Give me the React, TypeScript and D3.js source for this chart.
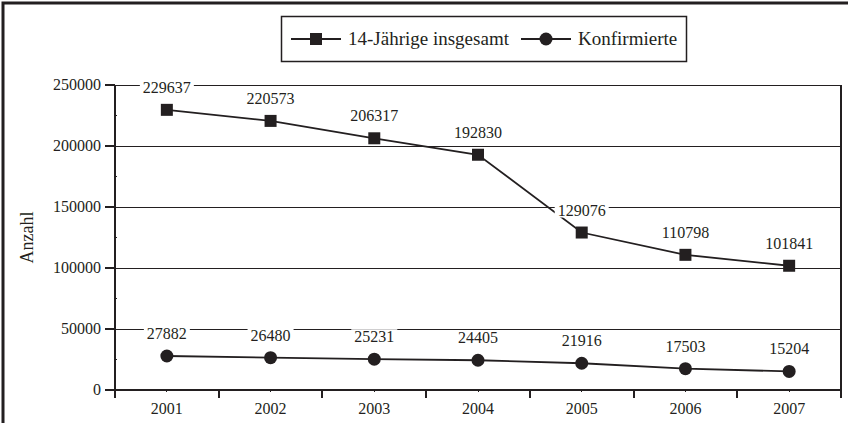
import React, { useEffect, useRef } from 'react';
import * as d3 from 'd3';

const years = ['2001', '2002', '2003', '2004', '2005', '2006', '2007'];
const totalValues = [229637, 220573, 206317, 192830, 129076, 110798, 101841];
const confirmedValues = [27882, 26480, 25231, 24405, 21916, 17503, 15204];
const yTicks = [0, 50000, 100000, 150000, 200000, 250000];
const yMinorTicks = [25000, 75000, 125000, 175000, 225000];
const seriesNames = ['14-Jährige insgesamt', 'Konfirmierte'];

const INK = '#231f20';
const FONT = 'Liberation Serif, DejaVu Serif, serif';

const App = () => {
  const ref = useRef<SVGSVGElement>(null);

  useEffect(() => {
    const width = 848;
    const height = 423;
    const margin = { top: 85, right: 7, bottom: 33, left: 115 };

    const svg = d3.select(ref.current);
    svg.selectAll('*').remove();

    // outer frame (partly cut off at right and bottom)
    svg
      .append('rect')
      .attr('x', 3)
      .attr('y', 3)
      .attr('width', width + 20)
      .attr('height', height + 20)
      .attr('fill', 'none')
      .attr('stroke', INK)
      .attr('stroke-width', 3);

    const x = d3
      .scaleBand()
      .domain(years)
      .range([margin.left, width - margin.right])
      .padding(0);

    const y = d3
      .scaleLinear()
      .domain([0, 250000])
      .range([height - margin.bottom, margin.top]);

    const x0 = margin.left;
    const x1 = width - margin.right;

    // gridlines
    svg
      .append('g')
      .attr('shape-rendering', 'crispEdges')
      .selectAll('line')
      .data(yTicks.filter((t) => t > 0))
      .join('line')
      .attr('x1', x0)
      .attr('x2', x1)
      .attr('y1', (d) => y(d))
      .attr('y2', (d) => y(d))
      .attr('stroke', INK)
      .attr('stroke-width', 1);

    // right border of plot
    svg
      .append('line')
      .attr('shape-rendering', 'crispEdges')
      .attr('x1', x1)
      .attr('x2', x1)
      .attr('y1', y(250000))
      .attr('y2', y(0) + 8)
      .attr('stroke', INK)
      .attr('stroke-width', 1.5);

    // Y axis
    const yAxis = svg.append('g').attr('shape-rendering', 'crispEdges');
    yAxis
      .append('line')
      .attr('x1', x0)
      .attr('x2', x0)
      .attr('y1', y(250000))
      .attr('y2', y(0) + 8)
      .attr('stroke', INK)
      .attr('stroke-width', 2);
    yAxis
      .selectAll('line.tick')
      .data(yTicks)
      .join('line')
      .attr('class', 'tick')
      .attr('x1', x0 - 10)
      .attr('x2', x0)
      .attr('y1', (d) => y(d))
      .attr('y2', (d) => y(d))
      .attr('stroke', INK)
      .attr('stroke-width', 1.5);
    yAxis
      .selectAll('line.minor')
      .data(yMinorTicks)
      .join('line')
      .attr('class', 'minor')
      .attr('x1', x0)
      .attr('x2', x0 + 2)
      .attr('y1', (d) => y(d))
      .attr('y2', (d) => y(d))
      .attr('stroke', INK);
    yAxis
      .selectAll('text')
      .data(yTicks)
      .join('text')
      .attr('x', x0 - 14)
      .attr('y', (d) => y(d) + 5)
      .attr('text-anchor', 'end')
      .attr('font-family', FONT)
      .attr('font-size', 16)
      .attr('fill', INK)
      .text((d) => String(d));

    svg
      .append('text')
      .attr('transform', `translate(33,${(y(0) + y(250000)) / 2}) rotate(-90)`)
      .attr('text-anchor', 'middle')
      .attr('font-family', FONT)
      .attr('font-size', 18)
      .attr('fill', INK)
      .text('Anzahl');

    // X axis
    const xAxis = svg.append('g').attr('shape-rendering', 'crispEdges');
    xAxis
      .append('line')
      .attr('x1', x0)
      .attr('x2', x1)
      .attr('y1', y(0))
      .attr('y2', y(0))
      .attr('stroke', INK)
      .attr('stroke-width', 2);
    const bounds = years.map((d) => x(d) as number).concat([x1]);
    xAxis
      .selectAll('line.tick')
      .data(bounds)
      .join('line')
      .attr('class', 'tick')
      .attr('x1', (d) => d)
      .attr('x2', (d) => d)
      .attr('y1', y(0))
      .attr('y2', y(0) + 8)
      .attr('stroke', INK)
      .attr('stroke-width', 2);
    xAxis
      .selectAll('line.minor')
      .data(years)
      .join('line')
      .attr('class', 'minor')
      .attr('x1', (d) => (x(d) as number) + x.bandwidth() / 2)
      .attr('x2', (d) => (x(d) as number) + x.bandwidth() / 2)
      .attr('y1', y(0))
      .attr('y2', y(0) + 2)
      .attr('stroke', INK);
    xAxis
      .selectAll('text')
      .data(years)
      .join('text')
      .attr('x', (d) => (x(d) as number) + x.bandwidth() / 2)
      .attr('y', y(0) + 24)
      .attr('text-anchor', 'middle')
      .attr('font-family', FONT)
      .attr('font-size', 16)
      .attr('fill', INK)
      .text((d) => d);

    const cx = (i: number) => (x(years[i]) as number) + x.bandwidth() / 2;
    const line = d3
      .line<number>()
      .x((_, i) => cx(i))
      .y((d) => y(d));

    [totalValues, confirmedValues].forEach((values) => {
      svg
        .append('path')
        .attr('d', line(values))
        .attr('fill', 'none')
        .attr('stroke', INK)
        .attr('stroke-width', 1.8);
    });

    svg
      .append('g')
      .selectAll('rect')
      .data(totalValues)
      .join('rect')
      .attr('x', (_, i) => cx(i) - 6)
      .attr('y', (d) => y(d) - 6)
      .attr('width', 12)
      .attr('height', 12)
      .attr('fill', INK);

    svg
      .append('g')
      .selectAll('circle')
      .data(confirmedValues)
      .join('circle')
      .attr('cx', (_, i) => cx(i))
      .attr('cy', (d) => y(d))
      .attr('r', 6.5)
      .attr('fill', INK);

    // value labels on white boxes
    const labels = svg.append('g');
    [totalValues, confirmedValues].forEach((values) => {
      values.forEach((v, i) => {
        const g = labels.append('g');
        const bg = g.append('rect').attr('fill', '#fff');
        const t = g
          .append('text')
          .attr('x', cx(i))
          .attr('y', y(v) - 17)
          .attr('text-anchor', 'middle')
          .attr('font-family', FONT)
          .attr('font-size', 16)
          .attr('fill', INK)
          .text(String(v));
        const b = (t.node() as SVGTextElement).getBBox();
        bg.attr('x', b.x - 3)
          .attr('y', b.y + 1)
          .attr('width', b.width + 6)
          .attr('height', b.height - 2);
      });
    });

    // legend
    const legend = svg.append('g');
    legend
      .append('rect')
      .attr('x', 281.5)
      .attr('y', 16.5)
      .attr('width', 405)
      .attr('height', 45)
      .attr('fill', '#fff')
      .attr('stroke', INK)
      .attr('stroke-width', 1.5);
    const items = [
      { name: seriesNames[0], lx: 291, tx: 348, shape: 'square' },
      { name: seriesNames[1], lx: 521, tx: 578, shape: 'circle' }
    ];
    items.forEach((it) => {
      const ly = 39;
      legend
        .append('line')
        .attr('x1', it.lx)
        .attr('x2', it.lx + 50)
        .attr('y1', ly)
        .attr('y2', ly)
        .attr('stroke', INK)
        .attr('stroke-width', 1.8);
      if (it.shape === 'square') {
        legend
          .append('rect')
          .attr('x', it.lx + 19)
          .attr('y', ly - 6)
          .attr('width', 12)
          .attr('height', 12)
          .attr('fill', INK);
      } else {
        legend
          .append('circle')
          .attr('cx', it.lx + 25)
          .attr('cy', ly)
          .attr('r', 6.5)
          .attr('fill', INK);
      }
      legend
        .append('text')
        .attr('x', it.tx)
        .attr('y', ly + 6)
        .attr('font-family', FONT)
        .attr('font-size', 19)
        .attr('fill', INK)
        .text(it.name);
    });
  }, []);

  return (
    <svg
      ref={ref}
      width={848}
      height={423}
      style={{ position: 'absolute', left: 0, top: 0, background: '#fff' }}
    />
  );
};

export default App;
